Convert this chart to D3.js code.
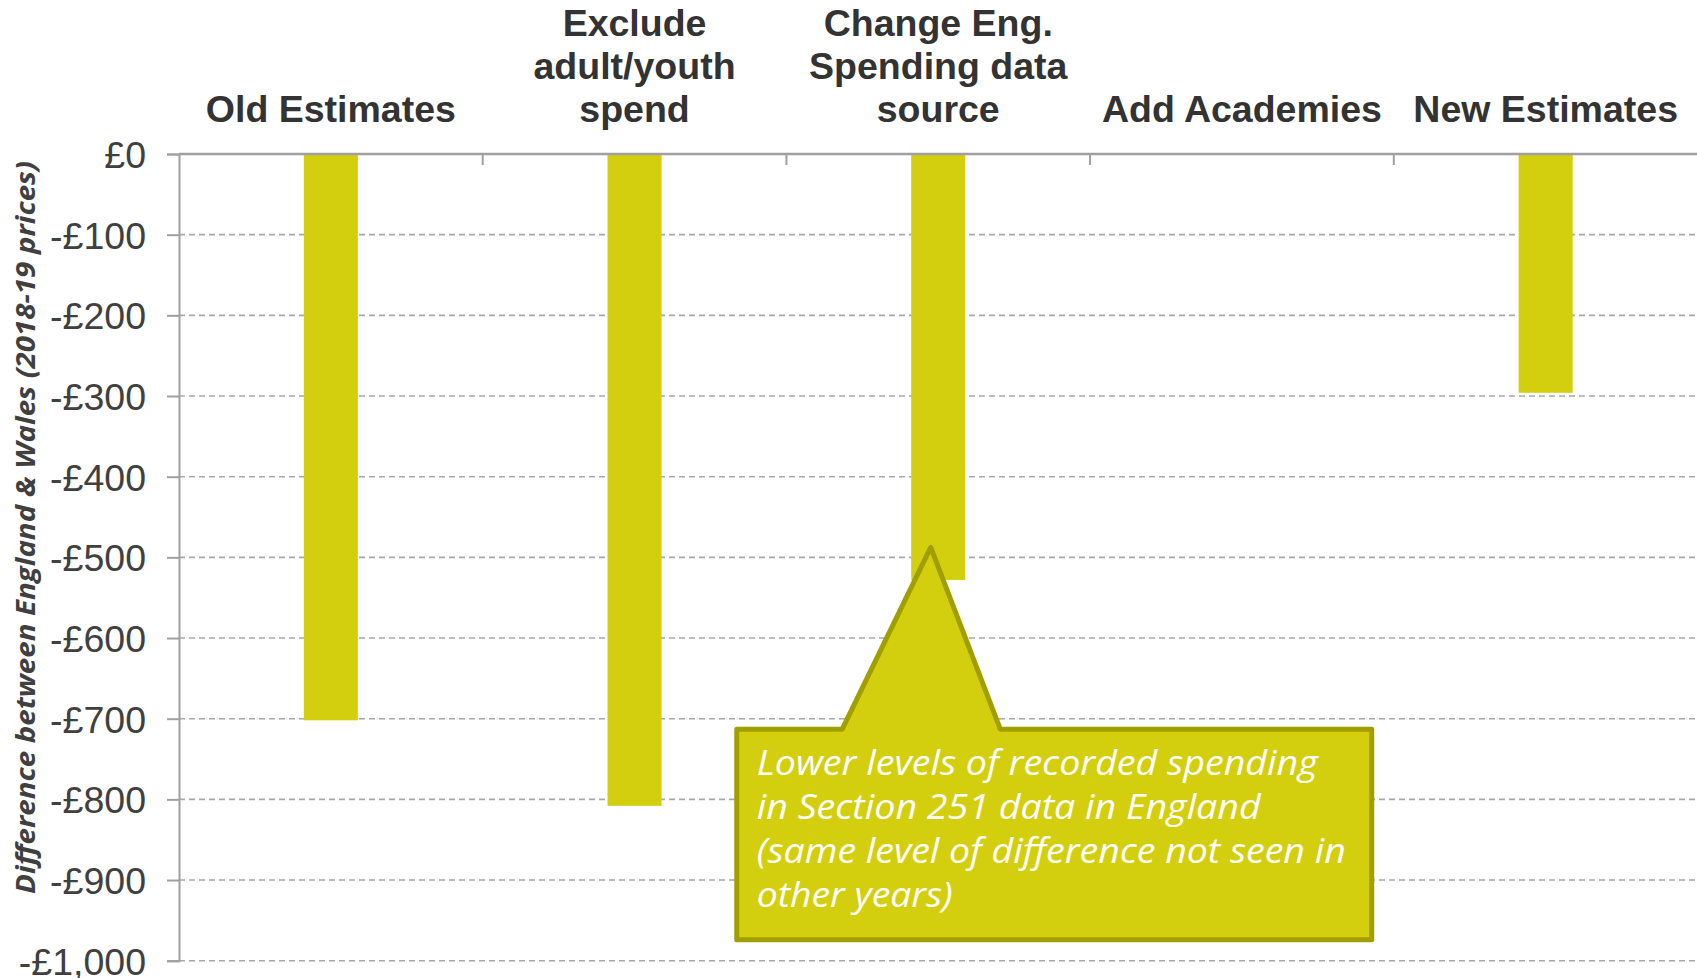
<!DOCTYPE html>
<html>
<head>
<meta charset="utf-8">
<script src="https://cdn.jsdelivr.net/npm/d3@7"></script>
<style>
  html, body { margin: 0; padding: 0; background: #fff; }
  svg { display: block; }
</style>
</head>
<body>
<svg id="chart" width="1697" height="978"></svg>
<script>
// ---- data ----
const categories = [
  ["Old Estimates"],
  ["Exclude", "adult/youth", "spend"],
  ["Change Eng.", "Spending data", "source"],
  ["Add Academies"],
  ["New Estimates"]
];
const values = [-702, -808, -528, null, -296];
const yTicks = [0, -100, -200, -300, -400, -500, -600, -700, -800, -900, -1000];
const yTitle = "Difference between England & Wales (2018-19 prices)";
const calloutLines = [
  "Lower levels of recorded spending",
  "in Section 251 data in England",
  "(same level of difference not seen in",
  "other years)"
];
const calloutLineWidths = [561, 504, 589, 196];
const calloutCategory = 2;
const calloutTipValue = -484;
const calloutBoxTop = -713;
const calloutBoxBottom = -974;

(function () {
// ---- layout ----
const svg = d3.select("#chart");
const pLeft = 179, pRight = 1697.5, pTop = 154, pBottom = 960.7;
const barColor = "#D4CF0E";
const strokeColor = "#A19E00";

const x = d3.scaleBand().domain(d3.range(categories.length)).range([pLeft, pRight]).padding(0);
const y = d3.scaleLinear().domain([-1000, 0]).range([pBottom, pTop]);
const bw = x.bandwidth() * 0.178;

// gridlines
svg.append("g").selectAll("line")
  .data(yTicks.filter(d => d !== 0))
  .join("line")
  .attr("x1", pLeft).attr("x2", 1697)
  .attr("y1", d => y(d)).attr("y2", d => y(d))
  .attr("stroke", "#A8A8A8").attr("stroke-width", 1.6)
  .attr("stroke-dasharray", "6,4");

// bars
svg.append("g").selectAll("rect")
  .data(values.map((v, i) => ({v, i})).filter(d => d.v !== null))
  .join("rect")
  .attr("x", d => x(d.i) + x.bandwidth() / 2 - bw / 2)
  .attr("width", bw)
  .attr("y", y(0))
  .attr("height", d => y(d.v) - y(0))
  .attr("fill", barColor);

// y axis
const yAxis = d3.axisLeft(y).tickValues(yTicks).tickSize(12).tickPadding(21)
  .tickFormat(d => (d < 0 ? "-£" : "£") + d3.format(",")(Math.abs(d)));
const gy = svg.append("g").attr("transform", `translate(${pLeft},0)`).call(yAxis);
gy.select(".domain").attr("stroke", "#A0A0A0").attr("stroke-width", 2);
gy.selectAll(".tick line").attr("stroke", "#A0A0A0").attr("stroke-width", 2);
gy.selectAll(".tick text")
  .attr("font-family", "'Liberation Sans', Arial, sans-serif")
  .attr("font-size", 37.5).attr("fill", "#404040").attr("dy", "0.36em");

// top x axis (at zero) with inward ticks at band boundaries
const gx = svg.append("g").attr("transform", `translate(0,${y(0)})`);
gx.append("line").attr("x1", pLeft).attr("x2", 1697).attr("y1", 0).attr("y2", 0)
  .attr("stroke", "#A0A0A0").attr("stroke-width", 2.5);
gx.selectAll("line.tk")
  .data(d3.range(1, categories.length))
  .join("line").attr("class", "tk")
  .attr("x1", d => x(d)).attr("x2", d => x(d))
  .attr("y1", 0).attr("y2", 11)
  .attr("stroke", "#A0A0A0").attr("stroke-width", 2);

// category labels
const lineH = 43, lastBase = 121.5;
const gl = svg.append("g");
categories.forEach((lines, i) => {
  const t = gl.append("text")
    .attr("text-anchor", "middle")
    .attr("font-family", "'Liberation Sans', Arial, sans-serif")
    .attr("font-weight", "bold")
    .attr("font-size", 37.5)
    .attr("fill", "#333333");
  lines.forEach((ln, j) => {
    t.append("tspan")
      .attr("x", x(i) + x.bandwidth() / 2)
      .attr("y", lastBase - (lines.length - 1 - j) * lineH)
      .text(ln);
  });
});

// y title
svg.append("text")
  .attr("transform", `translate(35,${(162 + 893) / 2}) rotate(-90)`)
  .attr("text-anchor", "middle")
  .attr("font-family", "'Open Sans', sans-serif")
  .attr("font-weight", "bold").attr("font-style", "italic")
  .attr("font-size", 27).attr("fill", "#404040")
  .attr("textLength", 733).attr("lengthAdjust", "spacingAndGlyphs")
  .text(yTitle);

// callout
const tipX = x(calloutCategory) + x.bandwidth() / 2 - 7.5;
const tipY = y(calloutTipValue) + 3;
const bTop = y(calloutBoxTop), bBot = y(calloutBoxBottom);
const bLeft = tipX - 194, bRight = tipX + 441;
const baseL = tipX - 88.5, baseR = tipX + 69.5;
svg.append("path")
  .attr("d", `M${bLeft},${bTop} L${baseL},${bTop} L${tipX},${tipY} L${baseR},${bTop} L${bRight},${bTop} L${bRight},${bBot} L${bLeft},${bBot} Z`)
  .attr("fill", barColor).attr("stroke", strokeColor)
  .attr("stroke-width", 5).attr("stroke-linejoin", "round");

const cg = svg.append("g")
  .attr("font-family", "'Open Sans', sans-serif")
  .attr("font-style", "italic")
  .attr("font-size", 35).attr("fill", "#ffffff");
calloutLines.forEach((ln, j) => {
  cg.append("text")
    .attr("x", bLeft + 20).attr("y", 775 + j * 44)
    .attr("textLength", calloutLineWidths[j]).attr("lengthAdjust", "spacingAndGlyphs")
    .text(ln);
});
})();
</script>
</body>
</html>
